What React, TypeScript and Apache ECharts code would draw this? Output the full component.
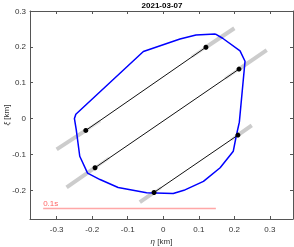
import React, { useEffect, useRef } from "react";
import * as echarts from "echarts";

// Blue outline (eta, xi) in km
const outlineEta = [0.146, 0.167, 0.216, 0.230, 0.214, 0.205, 0.197, 0.160, 0.113, 0.058, 0.028, -0.047, -0.127, -0.178, -0.213, -0.235, -0.245, -0.250, -0.246, -0.056, 0.047, 0.092, 0.146];
const outlineXi = [0.236, 0.224, 0.189, 0.160, -0.010, -0.050, -0.091, -0.137, -0.175, -0.200, -0.209, -0.207, -0.192, -0.170, -0.152, -0.105, -0.030, 0.000, 0.012, 0.187, 0.222, 0.233, 0.236];

// Chords: start / end points (black dots)
const chordStartEta = [-0.218, -0.192, -0.026];
const chordStartXi = [-0.033, -0.137, -0.206];
const chordEndEta = [0.120, 0.213, 0.210];
const chordEndXi = [0.199, 0.138, -0.046];

// Uncertainty (grey) outer ends
const errStartEta = [-0.300, -0.272, -0.066];
const errStartXi = [-0.086, -0.192, -0.233];
const errEndEta = [0.200, 0.291, 0.249];
const errEndXi = [0.252, 0.191, -0.019];

// Scale bar
const scaleBarEta = [-0.338, 0.148];
const scaleBarXi = -0.251;
const scaleBarLabel = "0.1s";

const title = "2021-03-07";
const tickValues = [-0.3, -0.2, -0.1, 0, 0.1, 0.2, 0.3];
const yTickValues = [-0.2, -0.1, 0, 0.1, 0.2, 0.3];

const FONT = "'Liberation Sans', Arial, Helvetica, sans-serif";

export default function App() {
  const ref = useRef<HTMLDivElement>(null);
  useEffect(() => {
    if (!ref.current) return;
    const chart = echarts.init(ref.current, null, { renderer: "svg" });
    const fmt = (v: number) => String(Math.round(v * 10) / 10);
    const axisLineColor = "#555";
    const series: any[] = [];

    // grey uncertainty segments
    for (let i = 0; i < chordStartEta.length; i++) {
      const sIn = [chordStartEta[i] + (chordStartEta[i] - errStartEta[i]) * 0.5, chordStartXi[i] + (chordStartXi[i] - errStartXi[i]) * 0.5];
      const eIn = [chordEndEta[i] + (chordEndEta[i] - errEndEta[i]) * 0.5, chordEndXi[i] + (chordEndXi[i] - errEndXi[i]) * 0.5];
      const common = { type: "line", showSymbol: false, silent: true, z: 1 };
      series.push({ ...common, lineStyle: { color: "#e4e4e4", width: 3, cap: "butt" }, data: [[chordStartEta[i], chordStartXi[i]], sIn] });
      series.push({ ...common, lineStyle: { color: "#e4e4e4", width: 3, cap: "butt" }, data: [[chordEndEta[i], chordEndXi[i]], eIn] });
      series.push({ ...common, lineStyle: { color: "#cccccc", width: 4, cap: "butt" }, data: [[errStartEta[i], errStartXi[i]], [chordStartEta[i], chordStartXi[i]]] });
      series.push({ ...common, lineStyle: { color: "#cccccc", width: 4, cap: "butt" }, data: [[chordEndEta[i], chordEndXi[i]], [errEndEta[i], errEndXi[i]]] });
    }

    // outline
    series.push({
      type: "line", showSymbol: false, silent: true, z: 2,
      lineStyle: { color: "#0000ff", width: 1.5 },
      data: outlineEta.map((e, i) => [e, outlineXi[i]]),
    });

    // chords
    for (let i = 0; i < chordStartEta.length; i++) {
      series.push({
        type: "line", showSymbol: false, silent: true, z: 3,
        lineStyle: { color: "#111", width: 1 },
        data: [[chordStartEta[i], chordStartXi[i]], [chordEndEta[i], chordEndXi[i]]],
      });
    }
    series.push({
      type: "scatter", symbol: "circle", symbolSize: 5, silent: true, z: 4,
      itemStyle: { color: "#000", opacity: 1 },
      data: [
        ...chordStartEta.map((e, i) => [e, chordStartXi[i]]),
        ...chordEndEta.map((e, i) => [e, chordEndXi[i]]),
      ],
    });

    // scale bar
    series.push({
      type: "line", showSymbol: false, silent: true, z: 3,
      lineStyle: { color: "rgba(255,60,60,0.45)", width: 1.5 },
      data: scaleBarEta.map((e) => [e, scaleBarXi]),
    });
    series.push({
      type: "scatter", symbolSize: 0, silent: true, z: 4,
      data: [[scaleBarEta[0], scaleBarXi]],
      label: {
        show: true, formatter: scaleBarLabel, position: [0, -1],
        align: "left", verticalAlign: "bottom",
        color: "#ff3b3b", fontSize: 8, fontFamily: FONT,
      },
    });

    const xBase = {
      type: "value", min: -0.375, max: 0.365,
      splitLine: { show: false },
      axisLine: { show: true, onZero: false, lineStyle: { color: axisLineColor, width: 1 } },
      axisTick: { show: true, inside: true, length: 3, customValues: tickValues, lineStyle: { color: axisLineColor } },
    };
    const yBase = {
      type: "value", min: -0.28, max: 0.3,
      splitLine: { show: false },
      axisLine: { show: true, onZero: false, lineStyle: { color: axisLineColor, width: 1 } },
      axisTick: { show: true, inside: true, length: 3, customValues: yTickValues, lineStyle: { color: axisLineColor } },
    };

    chart.setOption({
      animation: false,
      textStyle: { fontFamily: FONT },
      title: {
        text: title, left: 162, top: 1, textAlign: "center", padding: 0,
        textStyle: { fontSize: 8, fontWeight: "bold", color: "#000", fontFamily: FONT },
      },
      grid: { left: 30, right: 1, top: 11, bottom: 28, containLabel: false, outerBoundsMode: "none" },
      xAxis: [
        {
          ...xBase, position: "bottom",
          name: "{i|η} [km]", nameLocation: "middle", nameGap: 18, nameMoveOverlap: false,
          nameTextStyle: { fontSize: 8, color: "#333", fontFamily: FONT, rich: { i: { fontStyle: "italic", fontSize: 8, color: "#333", fontFamily: FONT } } },
          axisLabel: { show: true, customValues: tickValues, formatter: fmt, fontSize: 8, color: "#333", margin: 6, fontFamily: FONT },
        },
        { ...xBase, position: "top", axisLabel: { show: false } },
      ],
      yAxis: [
        {
          ...yBase, position: "left",
          name: "{i|ξ} [km]", nameLocation: "middle", nameGap: 20, nameMoveOverlap: false,
          nameTextStyle: { fontSize: 8, color: "#333", fontFamily: FONT, rich: { i: { fontStyle: "italic", fontSize: 8, color: "#333", fontFamily: FONT } } },
          axisLabel: { show: true, customValues: yTickValues, formatter: fmt, fontSize: 8, color: "#333", margin: 4, fontFamily: FONT },
        },
        { ...yBase, position: "right", axisLabel: { show: false } },
      ],
      series,
    });
    return () => chart.dispose();
  }, []);
  return <div ref={ref} style={{ position: "fixed", left: 0, top: 0, width: 294, height: 247 }} />;
}
